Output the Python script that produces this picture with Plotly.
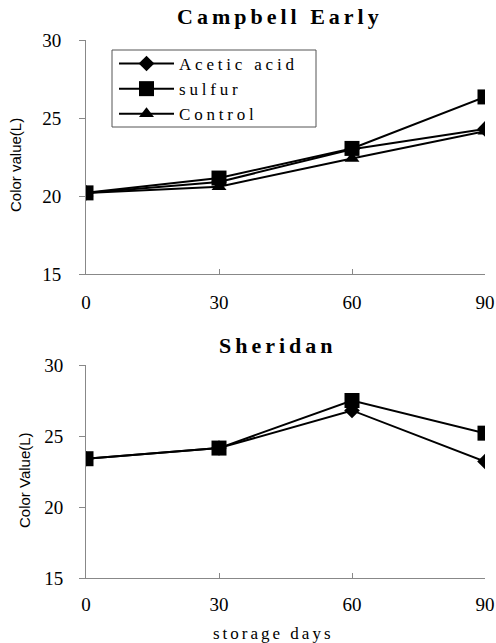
import plotly.graph_objects as go

days = [0, 30, 60, 90]
series_names = ["Acetic acid", "sulfur", "Control"]
campbell_acetic = [20.2, 20.9, 23.0, 24.3]
campbell_sulfur = [20.2, 21.15, 23.05, 26.35]
campbell_control = [20.2, 20.6, 22.4, 24.15]
sheridan_acetic = [23.4, 24.15, 26.8, 23.2]
sheridan_sulfur = [23.4, 24.15, 27.5, 25.2]
y_ticks = [15, 20, 25, 30]

symbols = ["diamond", "square", "triangle-up"]
sizes = [12, 15, 13]


def spaced(t, px):
    return '<span style="letter-spacing:%spx">%s</span>' % (px, t)


fig = go.Figure()
for name, vals, sym, sz in zip(series_names, [campbell_acetic, campbell_sulfur, campbell_control], symbols, sizes):
    fig.add_trace(go.Scatter(x=days, y=vals, name=spaced(name, 3.8), mode="lines+markers",
                             line=dict(color="black", width=2),
                             marker=dict(symbol=sym, size=sz, color="black"),
                             xaxis="x", yaxis="y"))
for name, vals, sym, sz in zip(series_names[:2], [sheridan_acetic, sheridan_sulfur], symbols[:2], sizes[:2]):
    fig.add_trace(go.Scatter(x=days, y=vals, name=name, mode="lines+markers",
                             line=dict(color="black", width=2),
                             marker=dict(symbol=sym, size=sz, color="black"),
                             showlegend=False, xaxis="x2", yaxis="y2"))

serif = "Liberation Serif"
axis_common = dict(showline=True, linecolor="#888", linewidth=1, showgrid=False, zeroline=False,
                   automargin=False, tickfont=dict(family=serif, size=19, color="black"))
ytitle_font = dict(family="Liberation Sans", size=15, color="black")
W, H = 496, 643


def px(x):
    return x / W


def py(y):
    return 1 - y / H


fig.update_layout(
    width=W, height=H,
    margin=dict(l=0, r=0, t=0, b=0, autoexpand=False),
    plot_bgcolor="white", paper_bgcolor="white",
    xaxis=dict(domain=[px(86), px(485)], anchor="y", range=[0, 90], tickvals=days,
               ticks="inside", ticklen=5, tickcolor="#888", ticklabelstandoff=11, **axis_common),
    yaxis=dict(domain=[py(274), py(40)], anchor="x", range=[15, 30], tickvals=y_ticks,
               ticks="outside", ticklen=6, tickcolor="#888", ticklabelstandoff=14, **axis_common),
    xaxis2=dict(domain=[px(86), px(485)], anchor="y2", range=[0, 90], tickvals=days,
                ticks="inside", ticklen=5, tickcolor="#888", ticklabelstandoff=9, **axis_common),
    yaxis2=dict(domain=[py(578), py(365)], anchor="x2", range=[15, 30], tickvals=y_ticks,
                ticks="outside", ticklen=6, tickcolor="#888", ticklabelstandoff=12, **axis_common),
    legend=dict(x=px(114), y=py(46), xanchor="left", yanchor="top", borderwidth=0,
                bgcolor="rgba(0,0,0,0)", font=dict(family=serif, size=17, color="black"), itemwidth=55,
                tracegroupgap=0),
    showlegend=True,
    shapes=[dict(type="rect", xref="paper", yref="paper", x0=px(112), x1=px(316), y0=py(127), y1=py(50),
                 line=dict(color="#555", width=1), fillcolor="white", layer="above")],
    annotations=[
        dict(text="<b>" + spaced("Campbell Early", 4) + "</b>", x=px(280), y=py(16), xanchor="center",
             yanchor="middle", xref="paper", yref="paper",
             showarrow=False, font=dict(family=serif, size=22, color="black")),
        dict(text="<b>" + spaced("Sheridan", 4) + "</b>", x=px(278), y=py(345), xanchor="center",
             yanchor="middle", xref="paper", yref="paper",
             showarrow=False, font=dict(family=serif, size=22, color="black")),
        dict(text=spaced("storage days", 3), x=px(273), y=py(633), xanchor="center", yanchor="middle",
             xref="paper", yref="paper",
             showarrow=False, font=dict(family=serif, size=17, color="black")),
        dict(text="Color value(L)", x=px(15), y=py(165), xanchor="center", yanchor="middle",
             xref="paper", yref="paper", textangle=-90, showarrow=False, font=ytitle_font),
        dict(text="Color Value(L)", x=px(24), y=py(480), xanchor="center", yanchor="middle",
             xref="paper", yref="paper", textangle=-90, showarrow=False, font=ytitle_font),
    ],
)
fig.write_html("out.html", config={"displayModeBar": False},
               post_script="document.body.style.margin='0';document.body.style.overflow='hidden';")
